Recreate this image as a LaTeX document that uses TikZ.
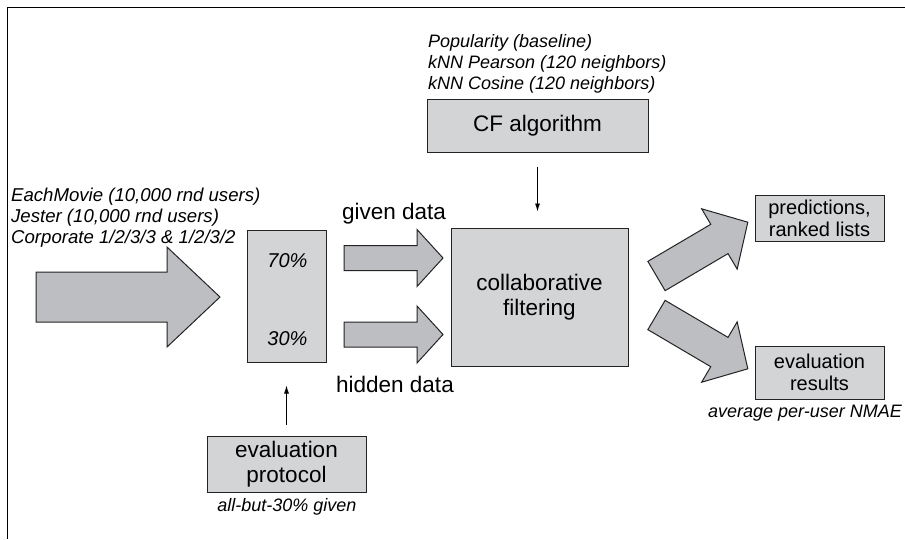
\documentclass[tikz,border=0pt]{standalone}
\usepackage{fontspec}
\setmainfont{Liberation Sans}
\usetikzlibrary{arrows.meta}
\definecolor{boxgray}{RGB}{211,212,214}
\definecolor{arrowgray}{RGB}{189,190,193}
\definecolor{edgegray}{RGB}{35,35,35}
% block arrow along +x: length, shaft half width, head half width, head length
\newcommand{\fatarrow}[4]{(0,-#2) -- ({#1-#4},-#2) -- ({#1-#4},-#3) -- (#1,0) -- ({#1-#4},#3) -- ({#1-#4},#2) -- (0,#2) -- cycle}

\begin{document}
\begin{tikzpicture}[x=1pt,y=-1pt,
    box/.style={draw=edgegray,line width=1pt,fill=boxgray,inner sep=0pt,align=center},
    bigtext/.style={font=\fontsize{22.5}{25}\selectfont},
    smalltext/.style={font=\fontsize{20}{22}\selectfont},
    listtext/.style={font=\fontsize{18}{21}\selectfont\itshape,align=left,inner sep=0pt},
    fat/.style={draw=edgegray,line width=1pt,fill=arrowgray,line join=miter},
    pointer/.style={line width=0.8pt,-{Latex[length=8pt,width=5pt]}}]
    \useasboundingbox (0,0) rectangle (905,539);
    \draw[line width=1pt] (7,539) -- (7,7) -- (905,7);

    % boxes
    \node[box,bigtext,minimum width=221pt,minimum height=53pt] (cf) at (537.5,125.5) {CF algorithm};
    \node[box,bigtext,minimum width=177pt,minimum height=138pt] (collab) at (539.5,297) {collaborative\\filtering};
    \node[box,minimum width=79pt,minimum height=132pt] (split) at (286.5,296) {};
    \node[box,bigtext,minimum width=159pt,minimum height=56pt] (protocol) at (286.5,464) {evaluation\\protocol};
    \node[box,smalltext,minimum width=129pt,minimum height=46pt] (pred) at (819.5,218) {predictions,\\ranked lists};
    \node[box,smalltext,minimum width=129pt,minimum height=53pt] (results) at (819.5,372.5) {evaluation\\results};

    % labels
    \node[font=\fontsize{20}{22}\selectfont\itshape] (seventy) at (287.5,261) {70\%};
    \node[font=\fontsize{20}{22}\selectfont\itshape] (thirty) at (287.5,339) {30\%};
    \node[listtext,font=\fontsize{18.6}{21}\selectfont\itshape,anchor=west] (datasets) at (11,218) {EachMovie (10,000 rnd users)\\Jester (10,000 rnd users)\\Corporate 1/2/3/3 \& 1/2/3/2};
    \node[listtext,anchor=west] (algos) at (428,63.5) {Popularity (baseline)\\kNN Pearson (120 neighbors)\\kNN Cosine (120 neighbors)};
    \node[bigtext,inner sep=0pt] (given) at (394,214) {given data};
    \node[bigtext,inner sep=0pt] (hidden) at (395,384) {hidden data};
    \node[listtext] (nmae) at (805,413) {average per-user NMAE};
    \node[listtext] (allbut) at (287,507) {all-but-30\% given};

    % block arrows
    \draw[fat,shift={(36,297)}] \fatarrow{184}{25}{50}{53};
    \draw[fat,shift={(344,258)}] \fatarrow{99}{12.5}{28.5}{26};
    \draw[fat,shift={(344,334.5)}] \fatarrow{99}{12.5}{28.5}{26};
    \draw[fat,shift={(656.5,276)},rotate=30.5] \fatarrow{106}{17}{35}{33};
    \draw[fat,shift={(656.5,315)},rotate=-30.5] \fatarrow{106}{17}{35}{33};

    % thin arrows
    \draw[pointer,shorten <=14pt,shorten >=16pt] (cf.south) -- (cf.south |- collab.north);
    \draw[pointer,shorten <=11pt,shorten >=23pt] (protocol.north) -- (split.south);
\end{tikzpicture}
\end{document}
